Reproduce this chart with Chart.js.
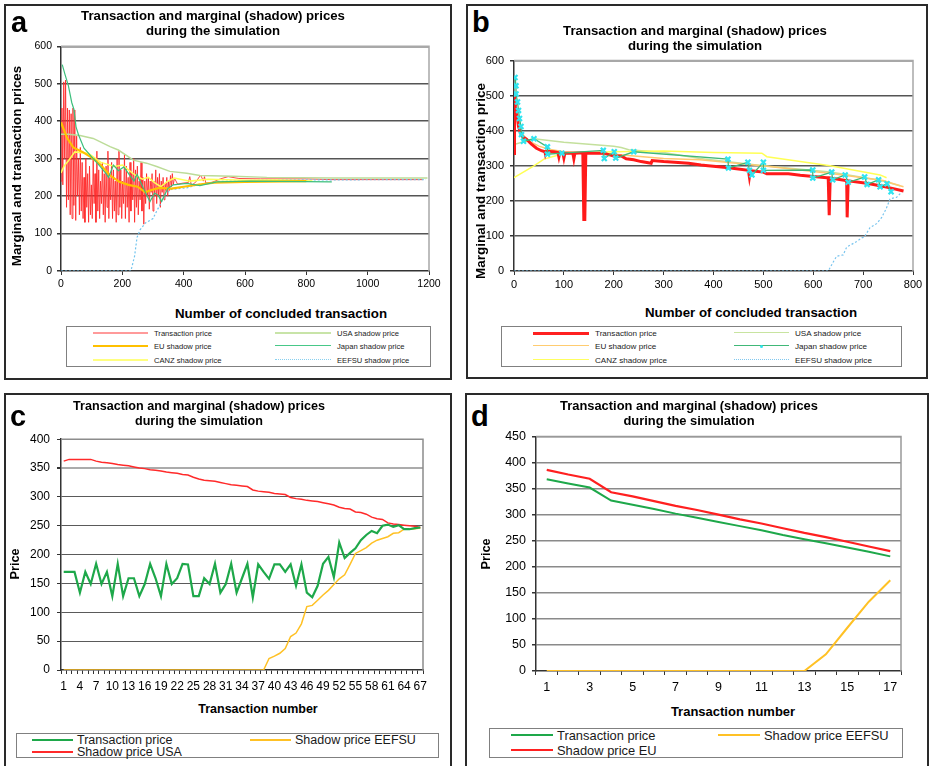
<!DOCTYPE html>
<html>
<head>
<meta charset="utf-8">
<script src="https://cdn.jsdelivr.net/npm/chart.js@4.4.0/dist/chart.umd.min.js"></script>
<style>
  html, body { margin: 0; padding: 0; background: #fff; }
  body { width: 929px; height: 766px; position: relative; overflow: hidden;
         font-family: "Liberation Sans", Arial, sans-serif; color: #000; }
  .panel { position: absolute; box-sizing: border-box; border: 2px solid #2a2a2a; }
  .txt { position: absolute; white-space: nowrap; z-index: 2; }
  .letter { font-weight: bold; font-size: 29px; line-height: 29px; }
  .title { font-weight: bold; text-align: center; transform: translateX(-50%); }
  .ytitle { font-weight: bold; transform: translate(-50%, -50%) rotate(-90deg); }
  .xtitle { font-weight: bold; transform: translate(-50%, -50%); }
  .legend { position: absolute; box-sizing: border-box; border: 1px solid #808080; background: #fff; z-index: 1; }
  .lg-text { position: absolute; white-space: nowrap; transform: translateY(-50%); z-index: 2; color: #1a1a1a; }
  .lg-line { position: absolute; height: 0; z-index: 2; }
  canvas { position: absolute; z-index: 1; }
</style>
</head>
<body>

<!-- panel frames -->
<div class="panel" style="left:4px;top:4px;width:448px;height:376px"></div>
<div class="panel" style="left:466px;top:4px;width:462px;height:375px"></div>
<div class="panel" style="left:4px;top:393px;width:448px;height:390px"></div>
<div class="panel" style="left:465px;top:393px;width:464px;height:390px"></div>

<!-- letters -->
<div class="txt letter" style="left:11px;top:8px">a</div>
<div class="txt letter" style="left:472px;top:8px">b</div>
<div class="txt letter" style="left:10px;top:402px">c</div>
<div class="txt letter" style="left:471px;top:402px">d</div>

<!-- titles -->
<div class="txt title" style="left:213px;top:8px;font-size:13.2px;line-height:15px">Transaction and marginal (shadow) prices<br>during the simulation</div>
<div class="txt title" style="left:695px;top:24px;font-size:13.2px;line-height:14.5px">Transaction and marginal (shadow) prices<br>during the simulation</div>
<div class="txt title" style="left:199px;top:399px;font-size:12.6px;line-height:15px">Transaction and marginal (shadow) prices<br>during the simulation</div>
<div class="txt title" style="left:689px;top:398px;font-size:12.9px;line-height:15px">Transaction and marginal (shadow) prices<br>during the simulation</div>

<!-- axis titles -->
<div class="txt ytitle" style="left:16px;top:166px;font-size:13.3px">Marginal and transaction prices</div>
<div class="txt ytitle" style="left:480px;top:181px;font-size:13.5px">Marginal and transaction price</div>
<div class="txt ytitle" style="left:15px;top:564px;font-size:12.7px">Price</div>
<div class="txt ytitle" style="left:486px;top:554px;font-size:12.7px">Price</div>

<div class="txt xtitle" style="left:281px;top:313px;font-size:13.3px">Number of concluded transaction</div>
<div class="txt xtitle" style="left:751px;top:312px;font-size:13.3px">Number of concluded transaction</div>
<div class="txt xtitle" style="left:258px;top:709px;font-size:12.5px">Transaction number</div>
<div class="txt xtitle" style="left:733px;top:711px;font-size:13px">Transaction number</div>

<div id="legends"></div>

<script>
// ── DATA ──────────────────────────────────────────
// panel a (x = number of concluded transaction)
const aTransX = [0,3,6,9,12,15,18,21,24,27,30,33,36,39,42,45,48,51,54,57,60,63,66,69,72,75,78,81,84,87,
  90,93,96,99,102,105,108,111,114,117,120,123,126,129,132,135,138,141,144,147,150,153,156,159,162,165,168,171,174,177,
  180,183,186,189,192,195,198,201,204,207,210,213,216,219,222,225,228,231,234,237,240,243,246,249,252,255,258,261,264,267,
  270,273,276,279,282,285,288,291,294,297,300,303,306,309,312,315,318,321,324,327,330,333,336,339,342,345,348,351,354,357,
  360,363,366,370,380,400,415,420,425,440,455,460,464,468,472,490,520,545,580,650,800,880,1180];
const aTransY = [240,435,230,505,300,510,170,435,190,430, 150,420,140,435,175,430,135,360,200,300,
  150,330,160,290,140,250,130,300,170,260, 130,280,150,230,140,300,180,260,130,320,
  160,270,140,240,180,290,150,260,130,280, 170,320,140,250,190,290,140,270,160,240,
  130,300,150,320,170,270,140,240,180,310, 140,280,170,250,130,290,160,260,190,300,
  130,270,170,280,150,240,190,290,160,250, 125,240,180,260,200,250,165,240,210,260,
  160,240,200,270,180,250,200,260,170,240, 210,250,190,235,215,250,200,240,215,255,
  225,260,230,248,232,235,236,252,228,238,256,248,240,252,235,236,246,252,247,246,246,244,244];
const aUsaX = [0,24,62,105,160,187,236,279,312,355,410,453,562,671,888,1195];
const aUsaY = [365,365,362,354,332,323,296,288,279,266,261,255,253,250,248,248];
const aEuX = [0,8,20,40,70,100,130,160,190,220,250,275,290,320,360,400,450,500,600,800];
const aEuY = [397,380,355,330,318,303,283,255,238,230,225,210,215,222,220,225,231,236,238,240];
const aCanzX = [0,10,25,45,90,130,175,200,220,240,265,285,305,325,345,370,420,480,600,700,820];
const aCanzY = [262,280,295,318,314,290,279,283,270,257,245,250,236,225,238,248,240,245,242,243,240];
const aJapanX = [4,13,24,35,42,49,57,75,100,122,145,155,171,187,205,222,238,248,268,290,305,317,328,348,366,410,453,508,616,883];
const aJapanY = [551,525,495,450,432,385,364,328,305,285,262,250,283,268,278,258,240,258,222,185,208,202,186,220,230,234,228,238,240,238];
const aEefsuX = [0,228,240,248,258,275,300,312,325,340,360,410,453,508,671,1190];
const aEefsuY = [0,0,40,90,110,128,140,160,180,205,218,222,232,239,243,244];

// panel b
const bTransX = [0,1,3,5,7,9,13,18,25,35,45,55,62,63,65,80,88,90,92,98,100,102,118,120,122,138,140,142,144,180,
  190,200,215,225,240,255,275,277,300,322,350,375,389,426,470,472,474,500,507,550,574,627,630,632,634,665,667,668,670,707,734,754,781];
const bTransY = [335,497,468,449,435,412,393,382,376,362,350,343,340,333,341,340,338,325,338,336,322,336,336,320,336,337,147,147,336,336,
  332,328,328,320,317,312,307,315,312,310,307,302,300,295,287,268,286,282,277,277,273,266,266,159,265,258,258,153,257,250,243,237,228];
const bUsaX = [0,40,100,200,215,230,300,373,500,634,734,774];
const bUsaY = [361,377,367,356,352,346,338,321,300,282,259,243];
const bEuX = [12,30,50,70,100,200,300,373,507,640,740,774,781];
const bEuY = [398,370,356,347,340,333,321,317,299,277,258,243,240];
const bCanzX = [0,40,60,100,150,200,300,400,497,507,634,734,747];
const bCanzY = [266,300,319,335,338,340,342,338,336,326,300,274,266];
const bJapanX = [2,4,4,7,9,11,14,15,19,40,67,67,96,179,181,201,204,240,429,430,469,472,477,500,500,599,599,637,639,664,670,703,708,731,734,748,756];
const bJapanY = [552,528,505,482,458,435,412,389,370,377,354,333,336,344,321,340,322,340,319,294,310,287,274,310,287,288,265,282,260,274,253,268,247,260,240,249,226];
const bEefsuX = [0,630,641,647,660,667,687,698,702,714,727,737,747,754,767,778];
const bEefsuY = [0,0,28,42,46,68,84,95,96,124,135,152,180,206,210,226];

// panel c
const cLabels = ['1','2','3','4','5','6','7','8','9','10','11','12','13','14','15','16','17','18','19','20',
  '21','22','23','24','25','26','27','28','29','30','31','32','33','34','35','36','37','38','39','40',
  '41','42','43','44','45','46','47','48','49','50','51','52','53','54','55','56','57','58','59','60',
  '61','62','63','64','65','66','67'];
const cTrans = [170,170,170,134,170,149,184,149,170,128, 184,128,159,159,128,149,184,159,128,184,
  149,159,184,183,128,128,159,149,184,134, 149,184,134,159,184,126,183,170,158,183,
  183,170,183,146,183,134,126,146,184,196, 161,221,194,203,211,225,234,241,237,250,
  252,248,251,244,244,246,247];
const cUsa = [362,365,365,365,365,365,362,360,359,358, 356,355,354,352,350,349,347,346,345,343,
  342,341,339,338,334,331,329,328,327,325, 323,321,320,319,318,312,310,309,308,306,
  305,304,299,297,296,294,293,292,290,288, 286,282,280,279,274,273,270,265,262,261,
  255,253,252,251,250,249,247];
const cEefsu = [0,0,0,0,0,0,0,0,0,0, 0,0,0,0,0,0,0,0,0,0,
  0,0,0,0,0,0,0,0,0,0, 0,0,0,0,0,0,0,0,20,24,
  29,37,58,64,80,110,112,121,130,138, 148,158,165,183,202,207,212,220,225,228,
  231,237,238,244,244,245,246];

// panel d
const dLabels = ['1','2','3','4','5','6','7','8','9','10','11','12','13','14','15','16','17'];
const dTrans = [368,360,352,327,319,311,302,294,286,278,270,261,253,245,237,229,220];
const dEu = [386,377,369,343,335,326,317,309,300,291,283,274,265,257,248,239,230];
const dEefsu = [0,0,0,0,0,0,0,0,0,0,0,0,0,32,83,133,174];

// ── HELPERS ───────────────────────────────────────
const FONT = "'Liberation Sans', Arial, sans-serif";

const framePlugin = {
  id: 'frame',
  beforeDatasetsDraw(chart, args, opts) {
    const { ctx, chartArea: a } = chart;
    ctx.save();
    ctx.strokeStyle = opts.color || '#999';
    ctx.lineWidth = opts.width || 1.5;
    ctx.beginPath();
    ctx.moveTo(a.left, a.top);
    ctx.lineTo(a.right, a.top);
    ctx.lineTo(a.right, a.bottom);
    ctx.stroke();
    ctx.restore();
  }
};

function xy(xs, ys) {
  return xs.map((x, i) => ({ x, y: ys[i] }));
}

function line(label, data, color, width, extra) {
  return Object.assign({
    label, data,
    borderColor: color, backgroundColor: color, borderWidth: width,
    pointRadius: 0, tension: 0, fill: false,
  }, extra || {});
}

function yAxis(max, step, size, pad, gridColor, gridWidth) {
  return {
    min: 0, max,
    ticks: { stepSize: step, color: '#000', font: { family: FONT, size }, padding: pad, callback: v => String(v) },
    grid: {
      color: c => (c.tick && c.tick.value === 0) ? 'rgba(0,0,0,0)' : (typeof gridColor === 'function' ? gridColor(c) : gridColor),
      lineWidth: gridWidth,
      tickLength: 4, tickColor: '#333',
    },
    border: { color: '#333', width: 1.5 },
  };
}

function xLinear(max, step, size, pad) {
  return {
    type: 'linear', min: 0, max,
    ticks: { stepSize: step, color: '#000', font: { family: FONT, size }, padding: pad, maxRotation: 0, autoSkip: false,
             callback: v => String(v) },
    grid: { drawOnChartArea: false, tickLength: 4, tickColor: '#333', color: '#333' },
    border: { color: '#333', width: 1.5 },
  };
}

function xCategory(labels, every, size, pad) {
  return {
    type: 'category', offset: true,
    ticks: {
      autoSkip: false, maxRotation: 0, minRotation: 0, color: '#000',
      font: { family: FONT, size }, padding: pad,
      callback: (v, i) => (i % every === 0 ? labels[i] : ''),
    },
    grid: { offset: true, drawOnChartArea: false, tickLength: 4, tickColor: '#333', color: '#333' },
    border: { color: '#333', width: 1.5 },
  };
}

function buildChart(box, plot, cfg, frame) {
  const canvas = document.createElement('canvas');
  canvas.width = box.w; canvas.height = box.h;
  canvas.style.left = box.x + 'px'; canvas.style.top = box.y + 'px';
  canvas.style.width = box.w + 'px'; canvas.style.height = box.h + 'px';
  document.body.appendChild(canvas);

  const yW = plot.l - box.x;
  const xH = box.y + box.h - plot.b;
  cfg.options.scales.x.afterFit = s => { s.height = xH; };
  cfg.options.scales.y.afterFit = s => { s.width = yW; };
  Object.assign(cfg.options, {
    responsive: false, animation: false, events: [], devicePixelRatio: 1,
    layout: { padding: { left: 0, bottom: 0, top: plot.t - box.y, right: box.x + box.w - plot.r } },
  });
  cfg.options.plugins = { legend: { display: false }, tooltip: { enabled: false }, frame };
  cfg.plugins = [framePlugin];
  return new Chart(canvas, cfg);
}

// ── PANEL A ───────────────────────────────────────
buildChart({ x: 26, y: 35, w: 419, h: 257 }, { l: 61, t: 43, r: 429, b: 271 }, {
  type: 'line',
  data: { datasets: [
    line('Japan shadow price', xy(aJapanX, aJapanY), '#3cbf7c', 1.2, { order: 1 }),
    line('EU shadow price', xy(aEuX, aEuY), '#ffc000', 2.2, { order: 2 }),
    line('CANZ shadow price', xy(aCanzX, aCanzY), '#ffff55', 1.5, { order: 3 }),
    line('EEFSU shadow price', xy(aEefsuX, aEefsuY), '#70c4ee', 1.2, { order: 4, borderDash: [2, 2] }),
    line('USA shadow price', xy(aUsaX, aUsaY), '#bcdc98', 1.5, { order: 5 }),
    line('Transaction price', xy(aTransX, aTransY), 'rgba(255,40,40,0.85)', 1, { order: 6 }),
  ] },
  options: { scales: { x: xLinear(1200, 200, 10.5, 3), y: yAxis(600, 100, 10.5, 5, '#555', 1.5) } },
}, { color: '#a8a8a8', width: 1.5 });

// ── PANEL B ───────────────────────────────────────
buildChart({ x: 479, y: 48, w: 448, h: 244 }, { l: 514, t: 56, r: 913, b: 271 }, {
  type: 'line',
  data: { datasets: [
    line('Japan shadow price', xy(bJapanX, bJapanY), '#40b878', 1.3, {
      order: 0, pointRadius: 3.5, pointStyle: 'crossRot', pointBorderColor: '#30e4f0', pointBorderWidth: 2.2,
    }),
    line('Transaction price', xy(bTransX, bTransY), '#ff1a1a', 3, { order: 1 }),
    line('EU shadow price', xy(bEuX, bEuY), '#ffc870', 1.5, { order: 2 }),
    line('CANZ shadow price', xy(bCanzX, bCanzY), '#ffff55', 1.5, { order: 3 }),
    line('USA shadow price', xy(bUsaX, bUsaY), '#c4e09c', 1.5, { order: 4 }),
    line('EEFSU shadow price', xy(bEefsuX, bEefsuY), '#78c4ee', 1.2, { order: 5, borderDash: [2, 2] }),
  ] },
  options: { scales: { x: xLinear(800, 100, 11, 3.5), y: yAxis(600, 100, 11, 6, '#555', 1.5) } },
}, { color: '#a8a8a8', width: 1.5 });

// ── PANEL C ───────────────────────────────────────
buildChart({ x: 24, y: 425, w: 417, h: 269 }, { l: 61, t: 433, r: 423, b: 670 }, {
  type: 'line',
  data: { labels: cLabels, datasets: [
    line('Transaction price', cTrans, '#1ea84a', 2.2, { order: 1 }),
    line('Shadow price USA', cUsa, '#ff2a2a', 1.5, { order: 2 }),
    line('Shadow price EEFSU', cEefsu, '#ffc125', 1.5, { order: 3 }),
  ] },
  options: { scales: {
    x: xCategory(cLabels, 3, 12, 5),
    y: yAxis(400, 50, 12, 7, c => (c.tick && c.tick.value === 350 ? '#ababab' : '#5a5a5a'), c => (c.tick && c.tick.value === 350 ? 2 : 1)),
  } },
}, { color: '#8c8c8c', width: 1.5 });

// ── PANEL D ───────────────────────────────────────
buildChart({ x: 499, y: 423, w: 422, h: 272 }, { l: 536, t: 431, r: 901, b: 671 }, {
  type: 'line',
  data: { labels: dLabels, datasets: [
    line('Transaction price', dTrans, '#1ea84a', 2, { order: 2 }),
    line('Shadow price EU', dEu, '#ff2020', 2.2, { order: 1 }),
    line('Shadow price EEFSU', dEefsu, '#ffc125', 2, { order: 3 }),
  ] },
  options: { scales: { x: xCategory(dLabels, 2, 12.5, 5), y: yAxis(450, 50, 12.5, 6, '#8a8a8a', 1.5) } },
}, { color: '#999', width: 1.5 });

// ── LEGENDS ───────────────────────────────────────
const legends = [
  { box: [66, 326, 365, 41], size: 7.6, items: [
    ['Transaction price', 93, 148, 154, 333, 'solid', '#ff9a9a', 2.5],
    ['EU shadow price', 93, 148, 154, 346, 'solid', '#ffc000', 2.5],
    ['CANZ shadow price', 93, 148, 154, 360, 'solid', '#ffff80', 2],
    ['USA shadow price', 275, 331, 337, 333, 'solid', '#c8e4a8', 2.5],
    ['Japan shadow price', 275, 331, 337, 346, 'solid', '#48c888', 1.5],
    ['EEFSU shadow price', 275, 331, 337, 360, 'dotted', '#88d0f0', 1.5],
  ] },
  { box: [501, 326, 401, 41], size: 8.1, items: [
    ['Transaction price', 533, 589, 595, 333, 'solid', '#ff2020', 3],
    ['EU shadow price', 533, 589, 595, 346, 'solid', '#ffcc70', 1.5],
    ['CANZ shadow price', 533, 589, 595, 360, 'solid', '#ffff60', 1.5],
    ['USA shadow price', 734, 789, 795, 333, 'solid', '#c8e4a0', 1.5],
    ['Japan shadow price', 734, 789, 795, 346, 'solid', '#40b878', 1.5, true],
    ['EEFSU shadow price', 734, 789, 795, 360, 'dotted', '#80c8f0', 1.5],
  ] },
  { box: [16, 733, 423, 25], size: 12.5, items: [
    ['Transaction price', 32, 73, 77, 740, 'solid', '#1ea84a', 2.2],
    ['Shadow price USA', 32, 73, 77, 752, 'solid', '#ff2a2a', 2],
    ['Shadow price EEFSU', 250, 291, 295, 740, 'solid', '#ffc125', 2],
  ] },
  { box: [489, 728, 414, 30], size: 12.9, items: [
    ['Transaction price', 511, 553, 557, 735, 'solid', '#1ea84a', 2],
    ['Shadow price EU', 511, 553, 557, 750, 'solid', '#ff2020', 2.2],
    ['Shadow price EEFSU', 718, 760, 764, 735, 'solid', '#ffc125', 2],
  ] },
];

const host = document.getElementById('legends');
legends.forEach(lg => {
  const b = document.createElement('div');
  b.className = 'legend';
  b.style.cssText = `left:${lg.box[0]}px;top:${lg.box[1]}px;width:${lg.box[2]}px;height:${lg.box[3]}px`;
  host.appendChild(b);
  lg.items.forEach(([text, x0, x1, tx, y, style, color, w, dot]) => {
    const l = document.createElement('div');
    l.className = 'lg-line';
    l.style.cssText = `left:${x0}px;top:${y - w / 2}px;width:${x1 - x0}px;border-top:${w}px ${style} ${color}`;
    host.appendChild(l);
    if (dot) {
      const d = document.createElement('div');
      d.className = 'lg-line';
      d.style.cssText = `left:${(x0 + x1) / 2 - 1.5}px;top:${y - 1.5}px;width:3px;height:3px;background:#30e4f0;border-radius:50%`;
      host.appendChild(d);
    }
    const t = document.createElement('div');
    t.className = 'lg-text';
    t.style.cssText = `left:${tx}px;top:${y}px;font-size:${lg.size}px`;
    t.textContent = text;
    host.appendChild(t);
  });
});
</script>
</body>
</html>
